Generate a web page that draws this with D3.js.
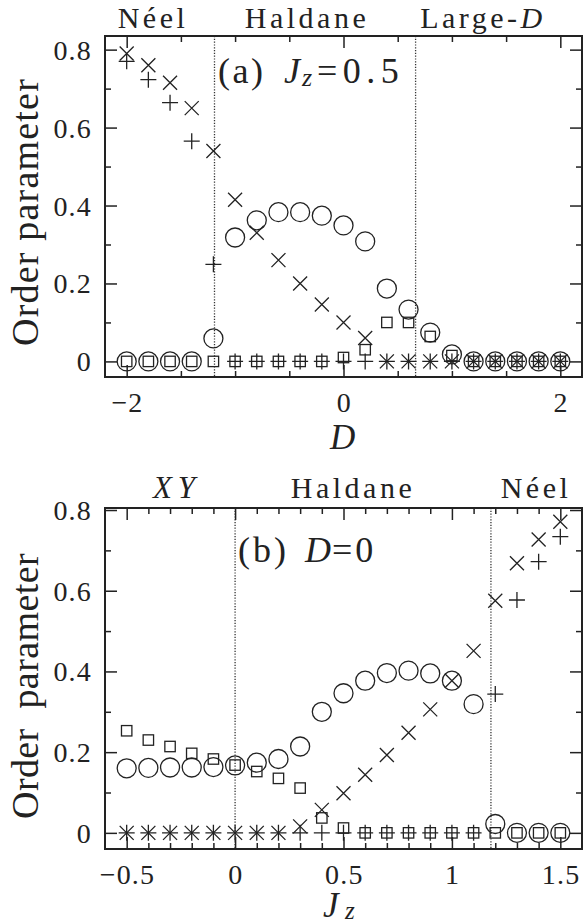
<!DOCTYPE html>
<html><head><meta charset="utf-8">
<script src="https://cdn.jsdelivr.net/npm/d3@7"></script>
<style>
body{margin:0;background:#fff}
svg{display:block}
svg text{fill:#222}
</style>
</head><body>
<svg id="c" width="583" height="924"></svg>
<script>
// ---------- Panel (a): Jz = 0.5, x = D ----------
const dValues   = [-2,-1.8,-1.6,-1.4,-1.2,-1,-0.8,-0.6,-0.4,-0.2,0,0.2,0.4,0.6,0.8,1,1.2,1.4,1.6,1.8,2];
const circleA   = [0,0,0,0,0.059,0.318,0.362,0.383,0.383,0.374,0.349,0.308,0.187,0.133,0.074,0.018,0,0,0,0,0];
const squareA   = [0,0,0,0,0,0,0,0,0,0,0.01,0.03,0.1,0.1,0.064,0.015,0,0,0,0,0];
const plusA     = [0.77,0.723,0.664,0.565,0.249,0,0,0,0,0,0,0,0,0,0,0,0,0,0,0,0];
const crossA    = [0.79,0.76,0.715,0.65,0.54,0.415,0.33,0.26,0.2,0.146,0.1,0.06,0,0,0,0,0,0,0,0,0];
const boundsA   = [-1.19, 0.665];
const xTicksA   = [-2,0,2];
const xTickLabA = ["\u22122","0","2"];
const xMinorA   = [-1.5,-1,-0.5,0.5,1,1.5];

// ---------- Panel (b): D = 0, x = Jz ----------
const jzValues  = [-0.5,-0.4,-0.3,-0.2,-0.1,0,0.1,0.2,0.3,0.4,0.5,0.6,0.7,0.8,0.9,1,1.1,1.2,1.3,1.4,1.5];
const circleB   = [0.16,0.161,0.162,0.162,0.163,0.167,0.174,0.183,0.214,0.3,0.346,0.377,0.396,0.402,0.395,0.377,0.319,0.022,0,0,0];
const squareB   = [0.253,0.23,0.214,0.197,0.183,0.168,0.152,0.135,0.111,0.037,0.012,0,0,0,0,0,0,0,0,0,0];
const plusB     = [0,0,0,0,0,0,0,0,0,0,0,0,0,0,0,0,0,0.344,0.577,0.672,0.734];
const crossB    = [0,0,0,0,0,0,0,0,0.016,0.057,0.098,0.144,0.193,0.248,0.306,0.377,0.451,0.575,0.668,0.727,0.771];
const boundsB   = [0, 1.18];
const xTicksB   = [-0.5,0,0.5,1,1.5];
const xTickLabB = ["\u22120.5","0","0.5","1","1.5"];
const xMinorB   = [-0.4,-0.3,-0.2,-0.1,0.1,0.2,0.3,0.4,0.6,0.7,0.8,0.9,1.1,1.2,1.3,1.4];

const yTicks    = [0,0.2,0.4,0.6,0.8];
const yTickLab  = ["0","0.2","0.4","0.6","0.8"];
const yMinor    = [0.1,0.3,0.5,0.7];

const svg = d3.select("#c");
const INK = "#222";
const FONT = "'Liberation Serif','Times New Roman','Nimbus Roman','FreeSerif','Noto Serif','DejaVu Serif',serif";

function panel(cfg){
  const g = svg.append("g");
  const x = d3.scaleLinear().domain(cfg.xDomain).range([cfg.left, cfg.right]);
  const y = d3.scaleLinear().domain(cfg.yDomain).range([cfg.bottom, cfg.top]);

  g.selectAll("line.bd").data(cfg.bounds).join("line")
    .attr("x1", d=>x(d)).attr("x2", d=>x(d))
    .attr("y1", cfg.top).attr("y2", cfg.bottom)
    .attr("stroke", "#333").attr("stroke-width", 1.3)
    .attr("stroke-dasharray", "1.2,1.6");

  const mk = g.append("g").attr("fill","none").attr("stroke",INK).attr("stroke-width",1.3);
  const pts = (arr) => cfg.xs.map((v,i)=>({x:v, y:arr[i]}));
  mk.selectAll("circle").data(pts(cfg.circle)).join("circle")
    .attr("cx", d=>x(d.x)).attr("cy", d=>y(d.y)).attr("r", 9.5);
  mk.selectAll("rect").data(pts(cfg.square)).join("rect")
    .attr("x", d=>x(d.x)-5.2).attr("y", d=>y(d.y)-5.2).attr("width",10.4).attr("height",10.4);
  mk.selectAll("path.plus").data(pts(cfg.plus)).join("path").attr("class","plus")
    .attr("transform", d=>`translate(${x(d.x)},${y(d.y)})`)
    .attr("d","M-8,0H8M0,-8V8");
  mk.selectAll("path.cross").data(pts(cfg.cross)).join("path").attr("class","cross")
    .attr("transform", d=>`translate(${x(d.x)},${y(d.y)})`)
    .attr("d","M-7,-7L7,7M-7,7L7,-7");

  const tk = (axis, tr) => {
    const a = g.append("g").attr("transform", tr).call(axis);
    a.select(".domain").remove();
    a.selectAll("text").remove();
    a.selectAll("line").attr("stroke", INK).attr("stroke-width", 1.5);
  };
  tk(d3.axisBottom(x).tickValues(cfg.xTicks).tickSize(-12), `translate(0,${cfg.bottom})`);
  tk(d3.axisBottom(x).tickValues(cfg.xMinor).tickSize(-6), `translate(0,${cfg.bottom})`);
  tk(d3.axisTop(x).tickValues(cfg.xTicks).tickSize(-12), `translate(0,${cfg.top})`);
  tk(d3.axisTop(x).tickValues(cfg.xMinor).tickSize(-6), `translate(0,${cfg.top})`);
  tk(d3.axisLeft(y).tickValues(yTicks).tickSize(-12), `translate(${cfg.left},0)`);
  tk(d3.axisLeft(y).tickValues(yMinor).tickSize(-6), `translate(${cfg.left},0)`);
  tk(d3.axisRight(y).tickValues(yTicks).tickSize(-12), `translate(${cfg.right},0)`);
  tk(d3.axisRight(y).tickValues(yMinor).tickSize(-6), `translate(${cfg.right},0)`);

  g.append("rect").attr("x",cfg.left).attr("y",cfg.top)
    .attr("width",cfg.right-cfg.left).attr("height",cfg.bottom-cfg.top)
    .attr("fill","none").attr("stroke",INK).attr("stroke-width",2);

  g.selectAll("text.xl").data(cfg.xTicks).join("text").attr("class","xl")
    .attr("x", d=>x(d)+0.8).attr("y", cfg.bottom+35)
    .attr("text-anchor","middle").attr("font-size",28).attr("letter-spacing",1.2)
    .attr("font-family",FONT)
    .text((d,i)=>cfg.xLab[i]);
  g.selectAll("text.yl").data(yTicks).join("text").attr("class","yl")
    .attr("x", 92).attr("y", d=>y(d)+10)
    .attr("text-anchor","end").attr("font-size",28).attr("letter-spacing",1.2)
    .attr("font-family",FONT)
    .text((d,i)=>yTickLab[i]);

  g.append("text")
    .attr("transform", `translate(38,${cfg.ylabY}) rotate(-90)`)
    .attr("text-anchor","middle").attr("font-size",38)
    .attr("font-family",FONT)
    .attr("letter-spacing", cfg.ylabLs)
    .style("white-space","pre")
    .text(cfg.ylab);
  return {g, x, y};
}

const A = panel({left:105,right:582,top:36,bottom:377, xDomain:[-2.2,2.2], yDomain:[-0.04,0.835],
  xs:dValues, circle:circleA, square:squareA, plus:plusA, cross:crossA, bounds:boundsA,
  xTicks:xTicksA, xLab:xTickLabA, xMinor:xMinorA, ylab:"Order parameter", ylabY:212, ylabLs:1.2});
const B = panel({left:105,right:582,top:508,bottom:849, xDomain:[-0.6,1.6], yDomain:[-0.04,0.805],
  xs:jzValues, circle:circleB, square:squareB, plus:plusB, cross:crossB, bounds:boundsB,
  xTicks:xTicksB, xLab:xTickLabB, xMinor:xMinorB, ylab:"Order  parameter", ylabY:686, ylabLs:0.4});

function phase(xc, yb, parts, fs, ls){
  const t = svg.append("text").attr("x",xc).attr("y",yb).attr("text-anchor","middle")
    .attr("font-family",FONT).attr("font-size",fs).attr("letter-spacing",ls);
  parts.forEach(p=>t.append("tspan").attr("font-style",p[1]?"italic":null).text(p[0]));
}
phase(153, 28, [["Néel",0]], 30, 3.5);
phase(307, 28, [["Haldane",0]], 30, 3.5);
phase(483, 28, [["Large-",0],["D",1]], 30, 3.5);
phase(177, 498, [["XY",1]], 31, 6);
phase(353, 498, [["Haldane",0]], 30, 3.5);
phase(536, 498, [["Néel",0]], 30, 3.5);

function put(x, y, s, fs, it, ls){
  svg.append("text").attr("x",x).attr("y",y).attr("font-size",fs)
    .attr("font-family",FONT)
    .attr("font-style", it?"italic":null).attr("letter-spacing", ls||0).text(s);
}
put(218, 83, "(a)", 36, 0, 2.5);
put(284, 83, "J", 36, 1);
put(302, 86, "z", 26, 1);
put(317, 83, "=0.5", 36, 0, 5.5);
put(238, 562, "(b)", 36, 0, 3);
put(305, 562, "D", 36, 1);
put(332, 562, "=0", 36, 0, 3);

put(330, 449, "D", 35, 1);
put(323, 917, "J", 35, 1);
put(345, 919, "z", 25, 1);
</script>
</body></html>
